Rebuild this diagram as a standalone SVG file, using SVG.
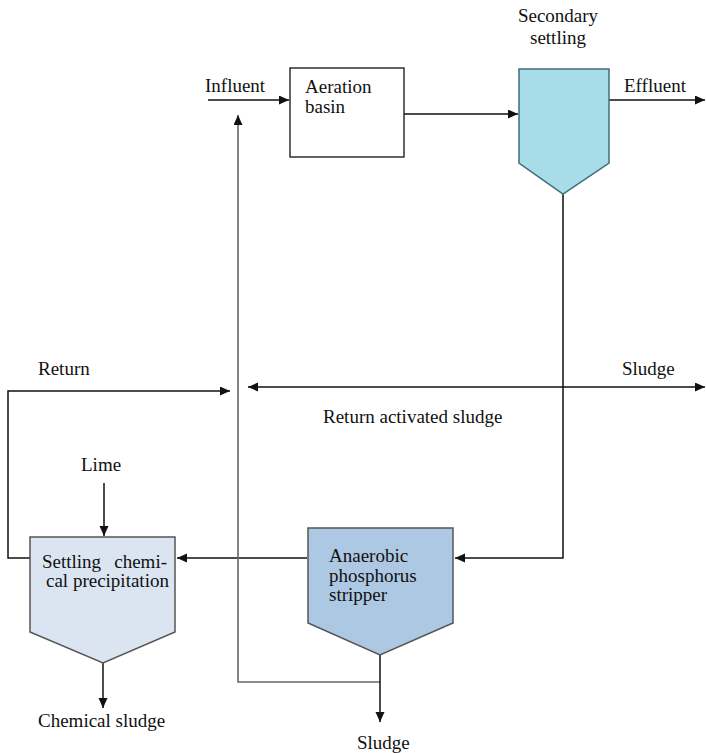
<svg xmlns="http://www.w3.org/2000/svg" width="706" height="753" viewBox="0 0 706 753">
<style>
text{font-family:"Liberation Serif","Times New Roman",serif;font-size:19px;fill:#111}
.ln{fill:none;stroke:#111;stroke-width:1.5}
.gr{fill:none;stroke:#666;stroke-width:1.6}
</style>
<defs>
<marker id="ah" markerUnits="userSpaceOnUse" markerWidth="11" markerHeight="10" refX="10" refY="4.5" orient="auto-start-reverse">
<path d="M0,0 L10,4.5 L0,9 z" fill="#111"/>
</marker>
</defs>
<rect width="706" height="753" fill="#fff"/>
<g id="connectors">
<path class="ln" d="M208,100 H289" marker-end="url(#ah)"/>
<path class="ln" d="M404,114 H518" marker-end="url(#ah)"/>
<path class="ln" d="M609,100 H705" marker-end="url(#ah)"/>
<path class="ln" d="M563,194 V558 H455" marker-end="url(#ah)"/>
<path class="ln" d="M307,558 H177" marker-end="url(#ah)"/>
<path class="ln" d="M30,558 H8 V391 H230" marker-end="url(#ah)"/>
<path class="ln" d="M248,387 H705" marker-start="url(#ah)" marker-end="url(#ah)"/>
<path class="gr" d="M380,682 H238 V115" marker-end="url(#ah)"/>
<path class="ln" d="M380,655 V722" marker-end="url(#ah)"/>
<path class="ln" d="M103,663 V708" marker-end="url(#ah)"/>
<path class="ln" d="M104,483 V536" marker-end="url(#ah)"/>
</g>
<g id="aeration">
<rect x="290" y="68" width="114" height="89" fill="#fff" stroke="#111" stroke-width="1.3"/>
<text x="305" y="93">Aeration</text>
<text x="305" y="113">basin</text>
</g>
<g id="secondary">
<polygon points="519,69 609,69 609,163 563,194 519,163" fill="#a7dce8" stroke="#3f6e79" stroke-width="1.5"/>
<text x="558" y="22" text-anchor="middle">Secondary</text>
<text x="558" y="44" text-anchor="middle">settling</text>
</g>
<g id="settling">
<polygon points="30,537 175,537 175,632 103,663 30,632" fill="#dbe5f1" stroke="#555" stroke-width="1.5"/>
<text y="568"><tspan x="42">Settling</tspan><tspan x="167" text-anchor="end">chemi-</tspan></text>
<text x="46" y="587">cal precipitation</text>
</g>
<g id="anaerobic">
<polygon points="308,528 453,528 453,623 380,655 308,623" fill="#adc8e2" stroke="#555" stroke-width="1.5"/>
<text x="329" y="562">Anaerobic</text>
<text x="329" y="582">phosphorus</text>
<text x="329" y="601">stripper</text>
</g>
<g id="labels">
<text x="205" y="92">Influent</text>
<text x="624" y="92">Effluent</text>
<text x="38" y="375">Return</text>
<text x="622" y="375">Sludge</text>
<text x="323" y="423">Return activated sludge</text>
<text x="81" y="471">Lime</text>
<text x="38" y="727">Chemical sludge</text>
<text x="357" y="749">Sludge</text>
</g>
</svg>
